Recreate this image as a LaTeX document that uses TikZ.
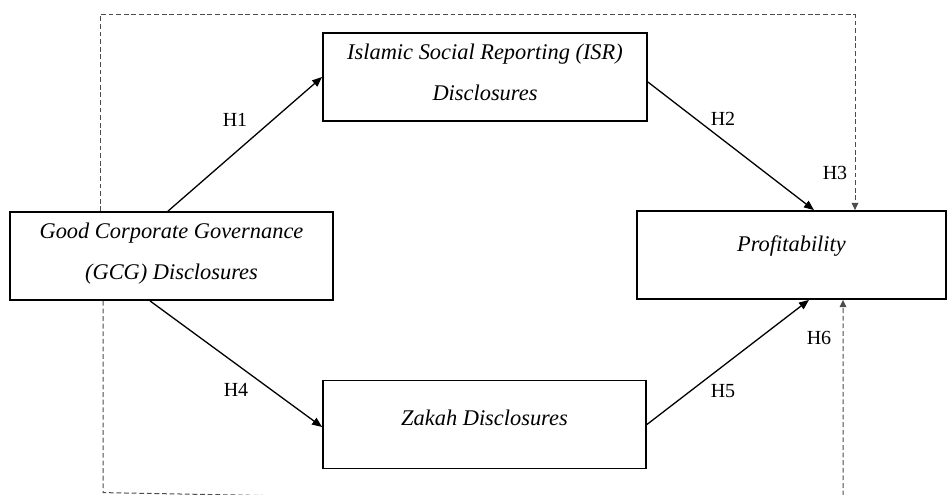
\documentclass[tikz,border=0pt]{standalone}
\usepackage{fontspec}
\setmainfont{Liberation Serif}
\usetikzlibrary{arrows.meta}

\begin{document}
\begin{tikzpicture}[x=0.5pt,y=-0.5pt,
    box/.style={draw, line width=0.9pt, minimum height=44pt, inner sep=0pt},
    boxtext/.style={font=\fontsize{11.2}{20.5}\selectfont\itshape, align=center, inner sep=0pt},
    link/.style={line width=0.65pt, -{Triangle[length=5pt,width=4pt]}},
    dashlink/.style={line width=0.5pt, black!70, dash pattern=on 2.4pt off 1.4pt,
        -{Triangle[length=3.6pt,width=3.3pt]}},
    hyp/.style={font=\fontsize{10}{12}\selectfont, inner sep=0pt}]
    \useasboundingbox (0,0) rectangle (949,494);

    % Boxes
    \node[box, minimum width=161.5pt] (gcg) at (171.5,256) {};
    \node[box, minimum width=162pt] (isr) at (485,77) {};
    \node[box, minimum width=161.5pt] (zakah) at (484.5,424.5) {};
    \node[box, minimum width=154.5pt] (prof) at (791.5,255) {};

    % Box texts
    \node[boxtext] (gcgtext) at (171.5,253.5) {Good Corporate Governance\\(GCG) Disclosures};
    \node[boxtext] (isrtext) at (485,72.5) {Islamic Social Reporting (ISR)\\Disclosures};
    \node[boxtext] (zakahtext) at (484.5,417.5) {Zakah Disclosures};
    \node[boxtext] (proftext) at (791.5,246) {Profitability};

    % Direct paths
    \draw[link] ([xshift=-1.75pt]gcg.north) -- (isr.west);
    \draw[link] ([yshift=-2.5pt]isr.east) -- ([xshift=11.25pt]prof.north);
    \draw[link] ([xshift=-10.75pt]gcg.south) -- ([yshift=-1.25pt]zakah.west);
    \draw[link] (zakah.east) -- ([xshift=8.75pt]prof.south);

    % Dashed paths
    \coordinate (topline) at (478,14.5);
    \draw[dashlink] ([xshift=-35.75pt]gcg.north) |- (topline) -| ([xshift=31.75pt]prof.north);
    \coordinate (bottomleft) at (103,492.6);
    \coordinate (bottomright) at (843,506);
    \draw[dashlink] ([xshift=-34.25pt]gcg.south) -- (bottomleft) -- (bottomright)
        -- ([xshift=25.75pt]prof.south);

    % Labels
    \node[hyp] (h1) at (235,120) {H1};
    \node[hyp] (h2) at (723,119) {H2};
    \node[hyp] (h3) at (835,173) {H3};
    \node[hyp] (h4) at (236,390) {H4};
    \node[hyp] (h5) at (723,391) {H5};
    \node[hyp] (h6) at (819,338) {H6};
\end{tikzpicture}
\end{document}
